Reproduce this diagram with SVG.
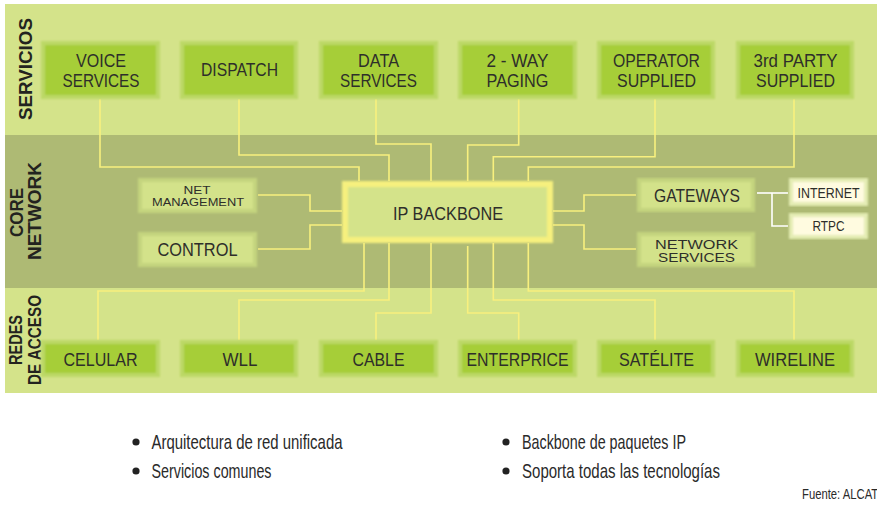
<svg xmlns="http://www.w3.org/2000/svg" width="877" height="508" viewBox="0 0 877 508">
<style>
.lbl{font-family:"Liberation Sans",Arial,sans-serif;fill:#2e2e2a;text-anchor:middle}
.side{font-family:"Liberation Sans",Arial,sans-serif;font-weight:bold;fill:#23231f;text-anchor:middle;font-size:18px}
.bul{font-family:"Liberation Sans",Arial,sans-serif;fill:#2a2a2a;font-size:21px}
.svc{fill:#a6ce39;stroke:#bcd866;stroke-width:4}
.core{fill:#d3e28a;stroke:#c4d47e;stroke-width:4}
.ext{fill:#fffbe0;stroke:#e4ecb4;stroke-width:4}
.bb{fill:#d4e38a;stroke:#f6f07e;stroke-width:6}
.ln{fill:none;stroke:#f8f07e;stroke-width:1.6}
.wl{fill:none;stroke:#ffffff;stroke-width:1.6}
</style>
<defs>
<filter id="soft" x="-5%" y="-10%" width="110%" height="120%"><feGaussianBlur stdDeviation="0.8"/></filter>
</defs>
<rect x="0" y="0" width="877" height="508" fill="#ffffff"/>
<rect x="5" y="4" width="872" height="389" fill="#d4e38a"/>
<rect x="5" y="135" width="872" height="153" fill="#aeba74"/>

<g id="side-labels">
<text class="side" transform="translate(32,69) rotate(-90)" textLength="102" lengthAdjust="spacingAndGlyphs">SERVICIOS</text>
<text class="side" transform="translate(23,212.5) rotate(-90)" textLength="49" lengthAdjust="spacingAndGlyphs">CORE</text>
<text class="side" transform="translate(40.5,211) rotate(-90)" textLength="98" lengthAdjust="spacingAndGlyphs">NETWORK</text>
<text class="side" transform="translate(22,340) rotate(-90)" textLength="50" lengthAdjust="spacingAndGlyphs">REDES</text>
<text class="side" transform="translate(41,340) rotate(-90)" textLength="90" lengthAdjust="spacingAndGlyphs">DE ACCESO</text>
</g>

<g id="connectors">
<path class="ln" d="M100,99 V167 H359 V181"/>
<path class="ln" d="M239,99 V155 H389 V181"/>
<path class="ln" d="M376,99 V144 H431 V181"/>
<path class="ln" d="M518.7,99 V145 H467.7 V181"/>
<path class="ln" d="M655,99 V156.7 H493.3 V181"/>
<path class="ln" d="M794,99 V167 H528.3 V181"/>
<path class="ln" d="M98,340 V291 H364 V243"/>
<path class="ln" d="M239,340 V300 H389 V243"/>
<path class="ln" d="M376,340 V313 H431 V243"/>
<path class="ln" d="M518.7,340 V313 H467.7 V246"/>
<path class="ln" d="M655,340 V300 H493.3 V243"/>
<path class="ln" d="M794,340 V291 H528.3 V243"/>
<path class="ln" d="M258,195 H310 V211 H342"/>
<path class="ln" d="M258,249 H310 V225 H342"/>
<path class="ln" d="M553,211 H584 V195 H636"/>
<path class="ln" d="M553,225 H584 V249 H636"/>
<path class="wl" d="M757,193 H788"/>
<path class="wl" d="M772,193 V226 H788"/>
</g>

<g id="voice-services">
<rect class="svc" x="43" y="43" width="115" height="54" filter="url(#soft)"/>
<text class="lbl" x="101" y="66.5" font-size="18" textLength="50" lengthAdjust="spacingAndGlyphs">VOICE</text>
<text class="lbl" x="101" y="86.5" font-size="18" textLength="77" lengthAdjust="spacingAndGlyphs">SERVICES</text>
</g>
<g id="dispatch">
<rect class="svc" x="182" y="43" width="114" height="54" filter="url(#soft)"/>
<text class="lbl" x="239.5" y="76" font-size="18" textLength="77" lengthAdjust="spacingAndGlyphs">DISPATCH</text>
</g>
<g id="data-services">
<rect class="svc" x="321" y="43" width="115" height="54" filter="url(#soft)"/>
<text class="lbl" x="378.5" y="66.5" font-size="18" textLength="41" lengthAdjust="spacingAndGlyphs">DATA</text>
<text class="lbl" x="378.5" y="86.5" font-size="18" textLength="77" lengthAdjust="spacingAndGlyphs">SERVICES</text>
</g>
<g id="two-way-paging">
<rect class="svc" x="460" y="43" width="115" height="54" filter="url(#soft)"/>
<text class="lbl" x="517.5" y="66.5" font-size="18" textLength="62" lengthAdjust="spacingAndGlyphs">2 - WAY</text>
<text class="lbl" x="517.5" y="86.5" font-size="18" textLength="62" lengthAdjust="spacingAndGlyphs">PAGING</text>
</g>
<g id="operator-supplied">
<rect class="svc" x="599" y="43" width="114" height="54" filter="url(#soft)"/>
<text class="lbl" x="656.5" y="66.5" font-size="18" textLength="87" lengthAdjust="spacingAndGlyphs">OPERATOR</text>
<text class="lbl" x="656.5" y="86.5" font-size="18" textLength="79" lengthAdjust="spacingAndGlyphs">SUPPLIED</text>
</g>
<g id="third-party-supplied">
<rect class="svc" x="738" y="43" width="114" height="54" filter="url(#soft)"/>
<text class="lbl" x="795.5" y="66.5" font-size="18" textLength="84" lengthAdjust="spacingAndGlyphs">3rd PARTY</text>
<text class="lbl" x="795.5" y="86.5" font-size="18" textLength="79" lengthAdjust="spacingAndGlyphs">SUPPLIED</text>
</g>

<g id="ip-backbone">
<rect class="bb" x="345" y="184" width="205" height="56" filter="url(#soft)"/>
<text class="lbl" x="448" y="219.5" font-size="19" textLength="110" lengthAdjust="spacingAndGlyphs">IP BACKBONE</text>
</g>
<g id="net-management">
<rect class="core" x="140" y="180" width="115" height="31" filter="url(#soft)"/>
<text class="lbl" x="197" y="194" font-size="11" textLength="27" lengthAdjust="spacingAndGlyphs">NET</text>
<text class="lbl" x="198" y="206" font-size="11" textLength="92" lengthAdjust="spacingAndGlyphs">MANAGEMENT</text>
</g>
<g id="control">
<rect class="core" x="140" y="234" width="115" height="31" filter="url(#soft)"/>
<text class="lbl" x="197.5" y="256" font-size="18" textLength="80" lengthAdjust="spacingAndGlyphs">CONTROL</text>
</g>
<g id="gateways">
<rect class="core" x="639" y="180" width="114" height="30" filter="url(#soft)"/>
<text class="lbl" x="697" y="201.5" font-size="18" textLength="86" lengthAdjust="spacingAndGlyphs">GATEWAYS</text>
</g>
<g id="network-services">
<rect class="core" x="639" y="234" width="114" height="31" filter="url(#soft)"/>
<text class="lbl" x="696.5" y="248.5" font-size="12" textLength="83" lengthAdjust="spacingAndGlyphs">NETWORK</text>
<text class="lbl" x="696.5" y="261.5" font-size="12" textLength="77" lengthAdjust="spacingAndGlyphs">SERVICES</text>
</g>
<g id="internet">
<rect class="ext" x="791" y="180" width="75" height="24" filter="url(#soft)"/>
<text class="lbl" x="828.5" y="197.5" font-size="14" textLength="62" lengthAdjust="spacingAndGlyphs">INTERNET</text>
</g>
<g id="rtpc">
<rect class="ext" x="791" y="215" width="75" height="22" filter="url(#soft)"/>
<text class="lbl" x="828.5" y="231" font-size="14" textLength="32" lengthAdjust="spacingAndGlyphs">RTPC</text>
</g>

<g id="celular">
<rect class="svc" x="43" y="342" width="115" height="33" filter="url(#soft)"/>
<text class="lbl" x="100.5" y="365.5" font-size="18" textLength="74" lengthAdjust="spacingAndGlyphs">CELULAR</text>
</g>
<g id="wll">
<rect class="svc" x="182" y="342" width="114" height="33" filter="url(#soft)"/>
<text class="lbl" x="240" y="365.5" font-size="18" textLength="35" lengthAdjust="spacingAndGlyphs">WLL</text>
</g>
<g id="cable">
<rect class="svc" x="321" y="342" width="115" height="33" filter="url(#soft)"/>
<text class="lbl" x="378.5" y="365.5" font-size="18" textLength="52" lengthAdjust="spacingAndGlyphs">CABLE</text>
</g>
<g id="enterprice">
<rect class="svc" x="460" y="342" width="115" height="33" filter="url(#soft)"/>
<text class="lbl" x="517.5" y="365.5" font-size="18" textLength="102" lengthAdjust="spacingAndGlyphs">ENTERPRICE</text>
</g>
<g id="satelite">
<rect class="svc" x="599" y="342" width="114" height="33" filter="url(#soft)"/>
<text class="lbl" x="656.5" y="365.5" font-size="18" textLength="75" lengthAdjust="spacingAndGlyphs">SATÉLITE</text>
</g>
<g id="wireline">
<rect class="svc" x="738" y="342" width="114" height="33" filter="url(#soft)"/>
<text class="lbl" x="795" y="365.5" font-size="18" textLength="80" lengthAdjust="spacingAndGlyphs">WIRELINE</text>
</g>

<g id="bullets">
<circle cx="136" cy="442" r="3.6" fill="#222"/>
<circle cx="136" cy="471" r="3.6" fill="#222"/>
<circle cx="506" cy="442" r="3.6" fill="#222"/>
<circle cx="506" cy="471" r="3.6" fill="#222"/>
<text class="bul" x="151.5" y="449" textLength="191" lengthAdjust="spacingAndGlyphs">Arquitectura de red unificada</text>
<text class="bul" x="151.5" y="478" textLength="120" lengthAdjust="spacingAndGlyphs">Servicios comunes</text>
<text class="bul" x="522" y="449" textLength="164" lengthAdjust="spacingAndGlyphs">Backbone de paquetes IP</text>
<text class="bul" x="522" y="478" textLength="198" lengthAdjust="spacingAndGlyphs">Soporta todas las tecnologías</text>
<text x="802" y="499" font-family="Liberation Sans, Arial, sans-serif" font-size="14" fill="#2a2a2a" textLength="90" lengthAdjust="spacingAndGlyphs">Fuente: ALCATEL</text>
</g>
</svg>
